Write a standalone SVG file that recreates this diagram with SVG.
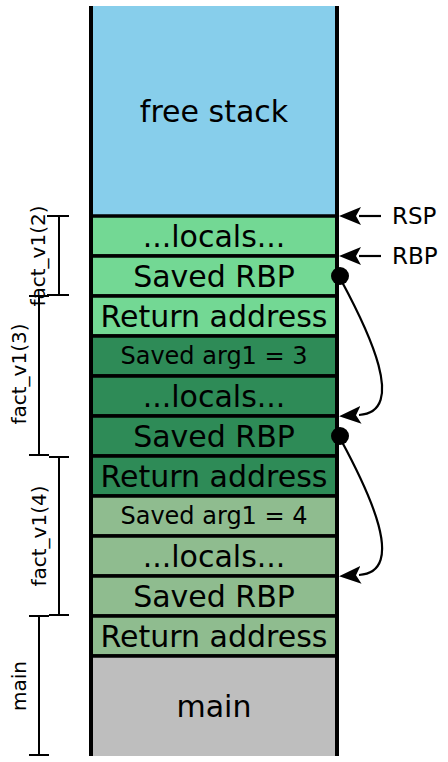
<svg xmlns="http://www.w3.org/2000/svg" width="448" height="762" viewBox="0 0 448 762">
<style>
.t{font-family:"DejaVu Sans",sans-serif;font-size:30px;fill:#000;text-anchor:middle;dominant-baseline:central}
.s{font-size:24px}
.l{font-family:"DejaVu Sans",sans-serif;font-size:20px;fill:#000;text-anchor:middle;dominant-baseline:central}
.row{stroke:#000;stroke-width:3.5}
.br{stroke:#000;stroke-width:2;fill:none}
.c{stroke:#000;stroke-width:2.2;fill:none}
</style>
<defs>
<marker id="ah" viewBox="0 0 22 18" refX="2" refY="9" markerWidth="22" markerHeight="18" markerUnits="userSpaceOnUse" orient="auto">
<path d="M22,9 L0,0 L5,9 L0,18 Z" fill="#000"/>
</marker>
</defs>
<g id="free"><rect x="91" y="6" width="246" height="210" fill="#87CEEB"/><text class="t" x="214" y="111">free stack</text></g>
<g id="locals2"><rect class="row" x="91" y="216" width="246" height="40" fill="#73D894"/><text class="t" x="214" y="236">...locals...</text></g>
<g id="rbp2"><rect class="row" x="91" y="256" width="246" height="40" fill="#73D894"/><text class="t" x="214" y="276">Saved RBP</text></g>
<g id="ret2"><rect class="row" x="91" y="296" width="246" height="40" fill="#73D894"/><text class="t" x="214" y="316">Return address</text></g>
<g id="arg3"><rect class="row" x="91" y="336" width="246" height="40" fill="#2E8B57"/><text class="t s" x="214" y="356">Saved arg1 = 3</text></g>
<g id="locals3"><rect class="row" x="91" y="376" width="246" height="40" fill="#2E8B57"/><text class="t" x="214" y="396">...locals...</text></g>
<g id="rbp3"><rect class="row" x="91" y="416" width="246" height="40" fill="#2E8B57"/><text class="t" x="214" y="436">Saved RBP</text></g>
<g id="ret3"><rect class="row" x="91" y="456" width="246" height="40" fill="#2E8B57"/><text class="t" x="214" y="476">Return address</text></g>
<g id="arg4"><rect class="row" x="91" y="496" width="246" height="40" fill="#8FBC8F"/><text class="t s" x="214" y="516">Saved arg1 = 4</text></g>
<g id="locals4"><rect class="row" x="91" y="536" width="246" height="40" fill="#8FBC8F"/><text class="t" x="214" y="556">...locals...</text></g>
<g id="rbp4"><rect class="row" x="91" y="576" width="246" height="40" fill="#8FBC8F"/><text class="t" x="214" y="596">Saved RBP</text></g>
<g id="ret4"><rect class="row" x="91" y="616" width="246" height="40" fill="#8FBC8F"/><text class="t" x="214" y="636">Return address</text></g>
<g id="main"><rect x="91" y="656" width="246" height="100" fill="#BEBEBE"/><line class="row" x1="91" y1="656" x2="337" y2="656"/><text class="t" x="214" y="706">main</text></g>
<g id="walls"><line x1="91" y1="6" x2="91" y2="756" stroke="#000" stroke-width="4"/><line x1="337" y1="6" x2="337" y2="756" stroke="#000" stroke-width="4"/></g>
<g id="brackets">
<path class="br" d="M47,216 H69 M59,216 V295 M47,295 H69"/>
<text class="l" transform="translate(38,256) rotate(-90)">fact_v1(2)</text>
<path class="br" d="M29,296 H49 M39,296 V455 M29,455 H49"/>
<text class="l" transform="translate(19,374) rotate(-90)">fact_v1(3)</text>
<path class="br" d="M49,457 H69 M59,457 V615 M49,615 H69"/>
<text class="l" transform="translate(39,536) rotate(-90)">fact_v1(4)</text>
<path class="br" d="M29,616 H49 M39,616 V755 M29,755 H49"/>
<text class="l" transform="translate(19,686) rotate(-90)">main</text>
</g>
<g id="pointers">
<line class="c" x1="381" y1="216" x2="359" y2="216" stroke-width="3" marker-end="url(#ah)"/>
<text class="t" x="392" y="216" style="text-anchor:start;font-size:23px">RSP</text>
<line class="c" x1="381" y1="256" x2="359" y2="256" stroke-width="3" marker-end="url(#ah)"/>
<text class="t" x="392" y="256" style="text-anchor:start;font-size:23px">RBP</text>
</g>
<g id="connectors">
<circle cx="340" cy="276" r="9" fill="#000"/>
<path class="c" d="M341,280 C368,330 408,412 359,415" marker-end="url(#ah)"/>
<circle cx="340" cy="436" r="9" fill="#000"/>
<path class="c" d="M341,440 C368,490 408,572 359,575" marker-end="url(#ah)"/>
</g>
</svg>
